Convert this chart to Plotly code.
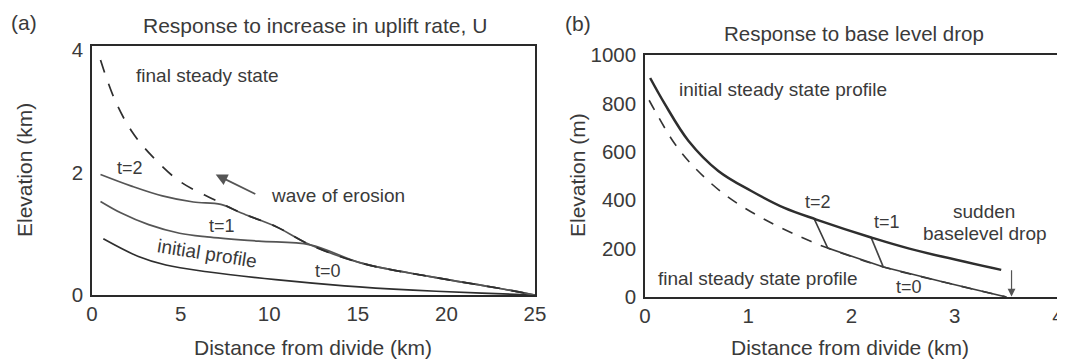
import plotly.graph_objects as go

# ---------------- Panel (a) data: km vs km ----------------
a_final_x = [0.48, 1.26, 2.23, 3.39, 4.94, 6.88, 8.43, 10.37, 12.31, 15.21, 19.09, 22.96, 25.0]
a_final_y = [3.84, 3.21, 2.68, 2.27, 1.86, 1.56, 1.34, 1.12, 0.82, 0.52, 0.30, 0.11, 0.0]

a_t2_x = [0.48, 2.23, 3.97, 5.72, 7.27, 8.43, 10.37, 12.31, 15.21, 19.09, 22.96, 25.0]
a_t2_y = [1.97, 1.78, 1.62, 1.52, 1.48, 1.34, 1.12, 0.82, 0.52, 0.30, 0.11, 0.0]

a_t1_x = [0.48, 1.65, 3.2, 4.94, 6.49, 9.4, 12.31, 15.21, 19.09, 22.96, 25.0]
a_t1_y = [1.53, 1.34, 1.15, 1.01, 0.95, 0.88, 0.82, 0.52, 0.30, 0.11, 0.0]

a_t0_x = [0.64, 2.62, 4.17, 6.49, 10.37, 14.24, 18.12, 22.0, 25.0]
a_t0_y = [0.92, 0.63, 0.49, 0.38, 0.25, 0.15, 0.08, 0.03, 0.0]

a_xticks = [0, 5, 10, 15, 20, 25]
a_yticks = [0, 2, 4]

# ---------------- Panel (b) data: km vs m ----------------
b_init_x = [0.05, 0.19, 0.42, 0.71, 1.03, 1.35, 1.66, 2.19, 2.56, 3.45]
b_init_y = [905, 799, 646, 521, 438, 368, 320, 246, 200, 112]

b_final_x = [0.04, 0.13, 0.29, 0.48, 0.77, 1.16, 1.61, 1.77, 2.31, 2.89, 3.5]
b_final_y = [813, 744, 632, 535, 424, 320, 229, 202, 124, 62, 0]

b_t2_x = [1.64, 1.77, 2.31, 2.89, 3.5]
b_t2_y = [322, 202, 124, 62, 0]

b_t1_x = [2.19, 2.31]
b_t1_y = [246, 122]

b_xticks = [0, 1, 2, 3, 4]
b_yticks = [0, 200, 400, 600, 800, 1000]

INK = "#3a3a3a"
FONT = "Liberation Sans, Arial, sans-serif"

fig = go.Figure()

# Panel a traces
fig.add_trace(go.Scatter(x=a_t0_x, y=a_t0_y, mode="lines", line=dict(color="#2e2e2e", width=1.7, shape="spline"),
                         xaxis="x", yaxis="y", showlegend=False))
fig.add_trace(go.Scatter(x=a_t1_x, y=a_t1_y, mode="lines", line=dict(color="#555555", width=1.7, shape="spline"),
                         xaxis="x", yaxis="y", showlegend=False))
fig.add_trace(go.Scatter(x=a_t2_x, y=a_t2_y, mode="lines", line=dict(color="#555555", width=1.7, shape="spline"),
                         xaxis="x", yaxis="y", showlegend=False))
fig.add_trace(go.Scatter(x=a_final_x, y=a_final_y, mode="lines",
                         line=dict(color="#2e2e2e", width=1.7, dash="13px,12px", shape="spline"),
                         xaxis="x", yaxis="y", showlegend=False))

# Panel b traces
fig.add_trace(go.Scatter(x=b_final_x, y=b_final_y, mode="lines",
                         line=dict(color="#333333", width=1.6, dash="11px,10px", shape="spline"),
                         xaxis="x2", yaxis="y2", showlegend=False))
fig.add_trace(go.Scatter(x=b_t2_x, y=b_t2_y, mode="lines", line=dict(color="#3c3c3c", width=1.6),
                         xaxis="x2", yaxis="y2", showlegend=False))
fig.add_trace(go.Scatter(x=b_t1_x, y=b_t1_y, mode="lines", line=dict(color="#444444", width=1.7),
                         xaxis="x2", yaxis="y2", showlegend=False))
fig.add_trace(go.Scatter(x=b_init_x, y=b_init_y, mode="lines", line=dict(color="#2e2e2e", width=2.5, shape="spline"),
                         xaxis="x2", yaxis="y2", showlegend=False))

# the page body adds an 8px margin, so the figure is sized/offset to compensate
OFF = 8
W, H = 1065 - OFF, 360 - OFF
def fx(xp):
    return (xp - OFF) / W
def fy(yp):
    return 1 - (yp - OFF) / H

axis_common = dict(showgrid=False, zeroline=False, showline=True, linecolor="#2a2a2a", linewidth=1.6,
                   mirror=True, ticks="", automargin=False,
                   tickfont=dict(size=20.5, color=INK, family=FONT))

fig.update_layout(
    width=W, height=H,
    margin=dict(l=0, r=0, t=0, b=0, pad=0, autoexpand=False),
    paper_bgcolor="white", plot_bgcolor="white",
    font=dict(family=FONT, color=INK),
    xaxis=dict(axis_common, domain=[fx(92), fx(535)], range=[0, 25], tickvals=a_xticks, anchor="y"),
    yaxis=dict(axis_common, domain=[fy(295), fy(46)], range=[0, 4.07], tickvals=a_yticks, anchor="x",
               ticklabelstandoff=3),
    xaxis2=dict(axis_common, domain=[fx(645), fx(1058)], range=[0, 4], tickvals=b_xticks, anchor="y2"),
    yaxis2=dict(axis_common, domain=[fy(297), fy(55)], range=[0, 1000], tickvals=b_yticks, anchor="x2",
                ticklabelstandoff=3),
)

ann = []
def ptext(text, xp, yp, size, angle=0):
    ann.append(dict(text=text, x=fx(xp), y=fy(yp), xref="paper", yref="paper", showarrow=False,
                    font=dict(size=size, color=INK, family=FONT), textangle=angle,
                    xanchor="center", yanchor="middle"))

def dtext(text, x, y, xr, yr, size, angle=0):
    ann.append(dict(text=text, x=x, y=y, xref=xr, yref=yr, showarrow=False,
                    font=dict(size=size, color=INK, family=FONT), textangle=angle,
                    xanchor="center", yanchor="middle"))

# Panel a labels
ptext("(a)", 24, 22, 21)
ptext("Response to increase in uplift rate, U", 315, 25, 21)
ptext("Elevation (km)", 24, 170, 21, -90)
ptext("Distance from divide (km)", 313, 347, 21)
dtext("final steady state", 6.49, 3.59, "x", "y", 19)
dtext("t=2", 2.13, 2.08, "x", "y", 18)
dtext("wave of erosion", 13.86, 1.62, "x", "y", 19)
dtext("t=1", 7.36, 1.12, "x", "y", 18)
dtext("initial profile", 6.49, 0.68, "x", "y", 19, 9)
dtext("t=0", 13.3, 0.40, "x", "y", 18)

# Panel b labels
ptext("(b)", 578, 24, 21)
ptext("Response to base level drop", 854, 34, 20.5)
ptext("Elevation (m)", 578, 175, 21, -90)
ptext("Distance from divide (km)", 850, 347, 21)
dtext("initial steady state profile", 1.34, 856, "x2", "y2", 19)
dtext("final steady state profile", 1.09, 76, "x2", "y2", 19)
dtext("t=2", 1.68, 393, "x2", "y2", 18)
dtext("t=1", 2.34, 310, "x2", "y2", 18)
dtext("sudden", 3.28, 352, "x2", "y2", 19)
dtext("baselevel drop", 3.29, 262, "x2", "y2", 19)
dtext("t=0", 2.56, 41, "x2", "y2", 18)

# Arrows
ann.append(dict(x=6.98, y=1.97, ax=9.3, ay=1.64, xref="x", yref="y", axref="x", ayref="y",
                text="", showarrow=True, arrowhead=2, arrowsize=1.3, arrowwidth=1.8, arrowcolor="#555555"))
ann.append(dict(x=3.55, y=2, ax=3.55, ay=117, xref="x2", yref="y2", axref="x2", ayref="y2",
                text="", showarrow=True, arrowhead=2, arrowsize=1.3, arrowwidth=1.2, arrowcolor="#555555"))

fig.update_layout(annotations=ann)

fig.write_html("out.html")
